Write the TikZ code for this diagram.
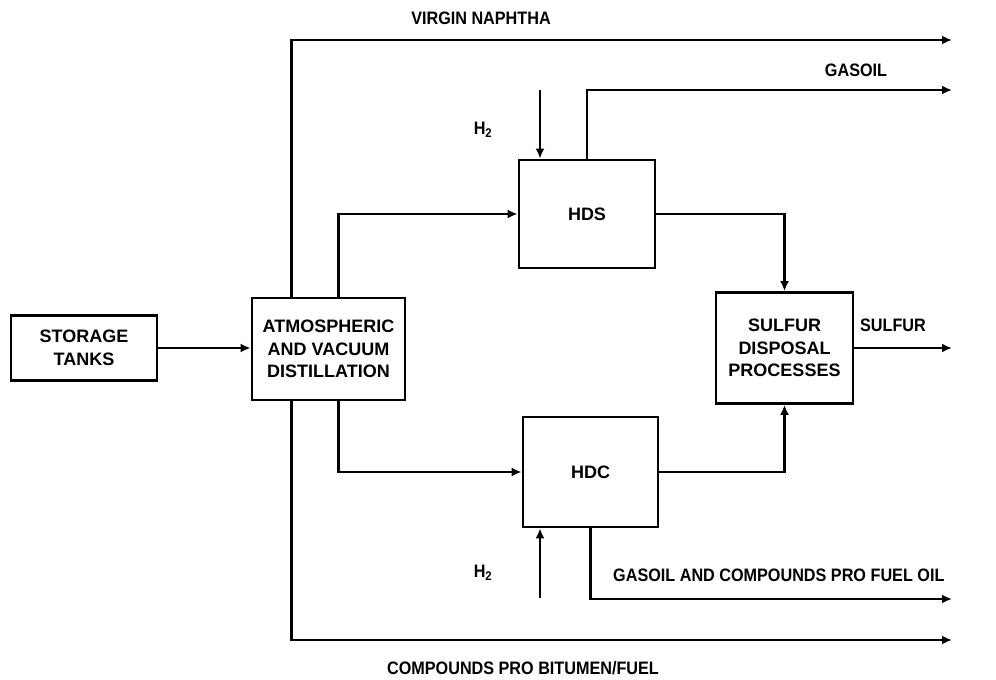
\documentclass[tikz,border=0pt]{standalone}
\usepackage{fontspec}
\setmainfont{Liberation Sans}
\newfontfamily\lblfont{Liberation Sans}[FakeStretch=0.9]
\usetikzlibrary{arrows.meta,calc}
\begin{document}
\begin{tikzpicture}[x=1pt,y=-1pt,
  box/.style={draw, line width=2.8pt, inner sep=0pt, align=center,
    font=\bfseries\fontsize{18}{22.5}\selectfont},
  lbl/.style={inner sep=0pt, font=\lblfont\bfseries\fontsize{18}{22}\selectfont},
  flow/.style={line width=2.8pt, -{Latex[length=10pt,width=9pt]}}]
\useasboundingbox[fill=white] (0,0) rectangle (996,680);
% boxes
\node[box, minimum width=146pt, minimum height=65pt] (st) at (84,348) {STORAGE\\TANKS};
\node[box, minimum width=153pt, minimum height=102pt] (atm) at (328.5,349) {ATMOSPHERIC\\AND VACUUM\\DISTILLATION};
\node[box, minimum width=136pt, minimum height=108pt] (hds) at (587,214) {HDS};
\node[box, minimum width=135pt, minimum height=110pt] (hdc) at (590.5,472) {HDC};
\node[box, minimum width=137pt, minimum height=111pt] (sul) at (784.5,348) {SULFUR\\DISPOSAL\\PROCESSES};
% free ends
\coordinate (vnEnd) at (952,40);
\coordinate (goEnd) at (952,90);
\coordinate (sfEnd) at (952,348);
\coordinate (foEnd) at (952,599);
\coordinate (btEnd) at (952,640);
\coordinate (h2a) at (540,90);
\coordinate (h2b) at (540,598);
% connectors
\draw[flow] (st.east) -- (st.east -| atm.west);
\draw[flow] ($(atm.north west)+(41,0)$) |- (vnEnd);
\draw[flow] ($(atm.south west)+(41,0)$) |- (btEnd);
\draw[flow] ($(atm.north west)+(88,0)$) |- (hds.west);
\draw[flow] ($(atm.south west)+(88,0)$) |- (hdc.west);
\draw[flow] (hds.east) -| (sul.north);
\draw[flow] (hdc.east) -| (sul.south);
\draw[flow] (sul.east) -- (sul.east -| sfEnd);
\draw[flow] (hds.north) |- (goEnd);
\draw[flow] (hdc.south) |- (foEnd);
\draw[flow] (h2a) -- (h2a |- hds.north);
\draw[flow] (h2b) -- (h2b |- hdc.south);
% labels
\node[lbl] (lvn) at (481,18) {VIRGIN NAPHTHA};
\node[lbl] (lgo) at (856,70) {GASOIL};
\node[lbl] (lsf) at (893,325) {SULFUR};
\node[lbl] (lh2a) at (483,130) {H\textsubscript{2}};
\node[lbl] (lh2b) at (483,573) {H\textsubscript{2}};
\node[lbl, anchor=west] (lfo) at (613,575) {GASOIL AND COMPOUNDS PRO FUEL OIL};
\node[lbl] (lbt) at (523,668) {COMPOUNDS PRO BITUMEN/FUEL};
\end{tikzpicture}
\end{document}
